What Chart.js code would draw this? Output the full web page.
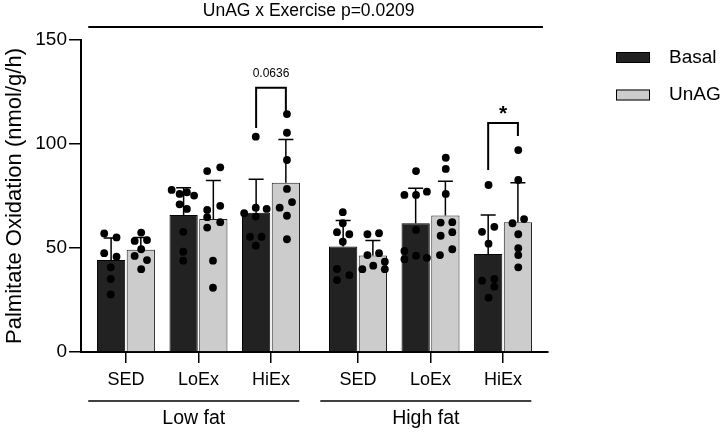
<!DOCTYPE html>
<html>
<head>
<meta charset="utf-8">
<script src="https://cdn.jsdelivr.net/npm/chart.js@4.4.0/dist/chart.umd.min.js"></script>
<style>
  html, body { margin: 0; padding: 0; background: #fff; }
</style>
</head>
<body>
<canvas id="chart" width="725" height="432"></canvas>
<script>
// categories along x; the empty step between 2 and 3.2 separates the diets
const categories = ['SED', 'LoEx', 'HiEx', 'SED', 'LoEx', 'HiEx'];
const catPos = [0, 1, 2, 3.2, 4.2, 5.2];
const groups = ['Low fat', 'High fat'];
const yTicks = [0, 50, 100, 150];

// means and SD (nmol/g/h)
const basalMean = [44.2, 65.9, 67.0, 50.7, 61.9, 47.1];
const basalSD = [10.6, 13.1, 16.0, 12.5, 16.8, 18.8];
const unagMean = [49.1, 63.9, 81.4, 46.4, 65.6, 62.4];
const unagSD = [6.0, 18.5, 20.8, 7.2, 16.5, 19.0];

// individual animals: [jitter, value] per category
const basalPts = [
  [[-0.30, 57.0], [-0.13, 55.1], [-0.30, 47.5], [-0.13, 45.8], [-0.21, 40.7], [-0.21, 35.1], [-0.21, 27.7]],
  [[-0.37, 77.9], [-0.26, 76.0], [-0.16, 76.8], [-0.06, 75.2], [-0.26, 71.0], [-0.16, 68.8], [-0.21, 57.8], [-0.21, 48.2], [-0.21, 43.9]],
  [[-0.21, 103.5], [-0.37, 66.7], [-0.21, 69.4], [-0.06, 68.8], [-0.21, 65.1], [-0.29, 55.4], [-0.13, 55.4], [-0.21, 51.1]],
  [[-0.21, 67.2], [-0.21, 61.9], [-0.29, 57.6], [-0.12, 56.6], [-0.21, 53.0], [-0.29, 39.9], [-0.12, 37.0], [-0.29, 34.6]],
  [[-0.20, 87.0], [-0.36, 75.5], [-0.20, 75.5], [-0.05, 77.1], [-0.20, 58.7], [-0.36, 48.6], [-0.36, 44.6], [-0.20, 46.3], [-0.05, 45.3]],
  [[-0.20, 80.3], [-0.29, 57.8], [-0.12, 60.2], [-0.20, 52.1], [-0.29, 34.3], [-0.12, 35.1], [-0.12, 31.4], [-0.20, 26.1]]
];
const unagPts = [
  [[0.21, 57.4], [0.12, 53.4], [0.29, 53.8], [0.21, 49.4], [0.12, 46.2], [0.29, 44.2], [0.21, 39.8]],
  [[0.12, 87.0], [0.30, 88.8], [0.12, 68.3], [0.30, 70.3], [0.12, 64.8], [0.30, 62.4], [0.12, 59.8], [0.20, 43.9], [0.20, 30.9]],
  [[0.22, 114.4], [0.22, 105.4], [0.22, 92.3], [0.22, 78.4], [0.29, 72.1], [0.12, 69.4], [0.22, 65.5], [0.22, 54.2]],
  [[0.13, 56.6], [0.29, 57.1], [0.13, 46.6], [0.29, 47.5], [0.21, 41.5], [0.06, 39.8], [0.37, 43.4], [0.37, 39.8]],
  [[0.21, 93.4], [0.21, 88.0], [0.21, 76.0], [0.14, 62.2], [0.30, 62.4], [0.14, 55.9], [0.30, 57.6], [0.30, 49.4], [0.13, 46.6]],
  [[0.21, 97.1], [0.21, 82.7], [0.13, 61.9], [0.29, 63.9], [0.21, 56.6], [0.21, 49.9], [0.21, 46.6], [0.21, 40.7]]
];

// comparisons: category index, bracket top, left/right leg ends, label
const brackets = [
  { cat: 2, top: 127, leftEnd: 107.7, rightEnd: 115.4, label: '0.0636' },
  { cat: 5, top: 110.1, leftEnd: 87.5, rightEnd: 103.9, label: '*' }
];
const interactionText = 'UnAG x Exercise p=0.0209';

const FONT = '"Liberation Sans", Arial, Helvetica, sans-serif';

const toBars = (means) => means.map((m, i) => ({ x: catPos[i], y: m }));
const toPoints = (pts) => pts.flatMap((g, i) => g.map(p => ({ x: catPos[i] + p[0], y: p[1] })));

const errorBars = {
  id: 'errorBars',
  afterDatasetDraw(chart, args) {
    const ds = chart.data.datasets[args.index];
    if (!ds.sd) return;
    const y = chart.scales.y;
    const ctx = chart.ctx;
    ctx.save();
    ctx.strokeStyle = '#000';
    ctx.lineWidth = 1.5;
    args.meta.data.forEach((bar, i) => {
      const top = y.getPixelForValue(ds.data[i].y + ds.sd[i]);
      ctx.beginPath();
      ctx.moveTo(bar.x, bar.y);
      ctx.lineTo(bar.x, top);
      ctx.moveTo(bar.x - 7.5, top);
      ctx.lineTo(bar.x + 7.5, top);
      ctx.stroke();
    });
    ctx.restore();
  }
};

const annotations = {
  id: 'annotations',
  afterDraw(chart) {
    const ctx = chart.ctx;
    const x = chart.scales.x;
    const y = chart.scales.y;
    ctx.save();
    ctx.strokeStyle = '#000';
    ctx.fillStyle = '#000';

    // significance brackets
    const m0 = chart.getDatasetMeta(0), m1 = chart.getDatasetMeta(1);
    brackets.forEach(b => {
      const xl = m0.data[b.cat].x, xr = m1.data[b.cat].x;
      const yt = y.getPixelForValue(b.top);
      ctx.lineWidth = 2;
      ctx.beginPath();
      ctx.moveTo(xl, y.getPixelForValue(b.leftEnd));
      ctx.lineTo(xl, yt);
      ctx.lineTo(xr, yt);
      ctx.lineTo(xr, y.getPixelForValue(b.rightEnd));
      ctx.stroke();
      ctx.textAlign = 'center';
      ctx.textBaseline = 'alphabetic';
      if (b.label === '*') {
        ctx.font = 'bold 21px ' + FONT;
        ctx.fillText(b.label, (xl + xr) / 2, yt - 3);
      } else {
        ctx.font = '12px ' + FONT;
        ctx.fillText(b.label, (xl + xr) / 2, yt - 11);
      }
    });

    // interaction line at top
    const x0 = x.getPixelForValue(catPos[0] - 0.52);
    const x1 = x.getPixelForValue(catPos[5] + 0.55);
    ctx.lineWidth = 1.8;
    ctx.beginPath();
    ctx.moveTo(x0, 27);
    ctx.lineTo(x1, 27);
    ctx.stroke();
    ctx.font = '17.5px ' + FONT;
    ctx.textAlign = 'center';
    ctx.textBaseline = 'middle';
    ctx.fillText(interactionText, (x0 + x1) / 2 - 7, 11);

    // diet group lines below the axis
    groups.forEach((g, k) => {
      const a = x.getPixelForValue(catPos[k * 3] - 0.52);
      const c = x.getPixelForValue(catPos[k * 3 + 2] + 0.39);
      ctx.lineWidth = 1.5;
      ctx.beginPath();
      ctx.moveTo(a, 401);
      ctx.lineTo(c, 401);
      ctx.stroke();
      ctx.font = '19.5px ' + FONT;
      ctx.textBaseline = 'middle';
      ctx.fillText(g, (a + c) / 2, 419);
    });

    // legend
    const bars = chart.data.datasets.filter(d => d.type === 'bar');
    bars.forEach((d, i) => {
      const cy = 57.5 + i * 37.5;
      ctx.fillStyle = d.backgroundColor;
      ctx.fillRect(616, cy - 5.5, 34, 11);
      ctx.lineWidth = 1;
      ctx.strokeStyle = '#000';
      ctx.strokeRect(616.5, cy - 5, 33, 10);
      ctx.fillStyle = '#000';
      ctx.font = '19px ' + FONT;
      ctx.textAlign = 'left';
      ctx.textBaseline = 'middle';
      ctx.fillText(d.label, 669, cy);
    });
    ctx.restore();
  }
};

new Chart(document.getElementById('chart'), {
  type: 'bar',
  data: {
    datasets: [
      {
        type: 'bar', label: 'Basal', data: toBars(basalMean), sd: basalSD,
        backgroundColor: '#222222', borderColor: '#000', borderWidth: 1,
        categoryPercentage: 0.82, barPercentage: 0.95, order: 2
      },
      {
        type: 'bar', label: 'UnAG', data: toBars(unagMean), sd: unagSD,
        backgroundColor: '#cccccc', borderColor: '#222', borderWidth: 1,
        categoryPercentage: 0.82, barPercentage: 0.95, order: 2
      },
      {
        type: 'scatter', label: 'Basal points', data: toPoints(basalPts),
        backgroundColor: '#000', borderWidth: 0, pointRadius: 3.9, order: 1
      },
      {
        type: 'scatter', label: 'UnAG points', data: toPoints(unagPts),
        backgroundColor: '#000', borderWidth: 0, pointRadius: 3.9, order: 1
      }
    ]
  },
  options: {
    responsive: false,
    animation: false,
    devicePixelRatio: 1,
    layout: { padding: { top: 40, right: 177, left: 0, bottom: 0 } },
    plugins: { legend: { display: false }, tooltip: { enabled: false } },
    scales: {
      x: {
        type: 'linear',
        min: -0.62,
        max: 5.82,
        offset: false,
        afterBuildTicks: s => { s.ticks = catPos.map(v => ({ value: v })); },
        afterFit: s => { s.height = 80; },
        ticks: {
          autoSkip: false, maxRotation: 0, padding: 6,
          color: '#000', font: { family: FONT, size: 18 },
          callback: (v, i) => categories[i]
        },
        grid: { offset: false, drawOnChartArea: false, drawTicks: true, tickLength: 11, color: '#000', lineWidth: 1.5 },
        border: { display: true, color: '#000', width: 2 }
      },
      y: {
        min: 0,
        max: 150,
        afterBuildTicks: s => { s.ticks = yTicks.map(v => ({ value: v })); },
        afterFit: s => { s.width = 81; },
        ticks: { padding: 2, color: '#000', font: { family: FONT, size: 19 } },
        grid: { drawOnChartArea: false, drawTicks: true, tickLength: 12, color: '#000', lineWidth: 1.5 },
        border: { display: true, color: '#000', width: 2 },
        title: {
          display: true, text: 'Palmitate Oxidation (nmol/g/h)',
          color: '#000', font: { family: FONT, size: 22 }, padding: { top: 2, bottom: 0 }
        }
      }
    }
  },
  plugins: [errorBars, annotations]
});
</script>
</body>
</html>
